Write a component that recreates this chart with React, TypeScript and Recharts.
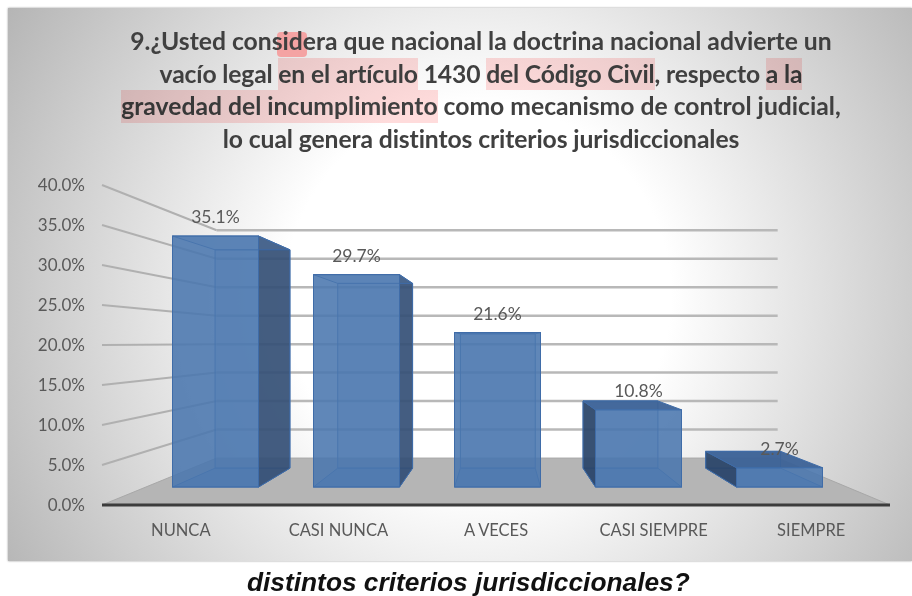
import React from 'react';
import { BarChart, Bar, XAxis, YAxis, CartesianGrid, LabelList } from 'recharts';

const categories = ['NUNCA', 'CASI NUNCA', 'A VECES', 'CASI SIEMPRE', 'SIEMPRE'];
const percentages = [35.1, 29.7, 21.6, 10.8, 2.7];
const yTicks = [0, 5, 10, 15, 20, 25, 30, 35, 40];

const chartData = categories.map((name, i) => ({ name, value: percentages[i] }));

// the 3D look: everything shrinks towards one vanishing point
const VP_X = 500;
const VP_Y = 342;
const WALL_DEPTH = 0.712;
const BAR_DEPTH = 0.87;

const project = (x: number, y: number, depth: number) => [
  VP_X + depth * (x - VP_X),
  VP_Y + depth * (y - VP_Y),
];

const pts = (list: number[][]) => list.map((p) => p.join(',')).join(' ');

const FONT = 'Lato, sans-serif';
const EDGE = '#3f6ca8';

// Left wall line, back wall line, and the floor under the zero line
const renderGridLine = (props: any) => {
  const { x1, x2, y1, key } = props;
  const [bx1, by] = project(x1, y1, WALL_DEPTH);
  const [bx2] = project(x2, y1, WALL_DEPTH);
  const isFloor = Math.abs(y1 - 505) < 1;
  if (isFloor) {
    return (
      <g key={key}>
        <polygon
          points={pts([[x1, y1], [bx1, by], [bx2, by], [x2, y1]])}
          fill="#b5b5b5"
          stroke="#a8a8a8"
          strokeWidth={1}
        />
      </g>
    );
  }
  return (
    <g key={key}>
      <line x1={x1} y1={y1} x2={bx1} y2={by} stroke="#b0b0b0" strokeWidth={2} />
      <line x1={bx1} y1={by} x2={bx2} y2={by} stroke="#b8b8b8" strokeWidth={2.5} />
    </g>
  );
};

const Bar3D = (props: any) => {
  const { x, y, width, height } = props;
  const right = x + width;
  const bottom = y + height;
  const [bl, bt] = project(x, y, BAR_DEPTH);
  const [br, bb] = project(right, bottom, BAR_DEPTH);

  const backFace = [[bl, bt], [br, bt], [br, bb], [bl, bb]];
  const floorFace = [[x, bottom], [right, bottom], [br, bb], [bl, bb]];
  const topFace = [[x, y], [right, y], [br, bt], [bl, bt]];
  const leftFace = [[x, y], [bl, bt], [bl, bb], [x, bottom]];
  const rightFace = [[right, y], [br, bt], [br, bb], [right, bottom]];
  const topVisible = y > VP_Y;

  return (
    <g>
      <polygon points={pts(backFace)} fill="#4f81bd" fillOpacity={0.25} stroke={EDGE} strokeWidth={1} />
      <polygon points={pts(floorFace)} fill="#4f81bd" fillOpacity={0.45} stroke={EDGE} strokeWidth={1} />
      {bl < x && <polygon points={pts(leftFace)} fill="#2a4468" fillOpacity={0.92} stroke={EDGE} strokeWidth={1} />}
      {br > right && <polygon points={pts(rightFace)} fill="#344f74" fillOpacity={0.9} stroke={EDGE} strokeWidth={1} />}
      <polygon
        points={pts(topFace)}
        fill={topVisible ? '#3c6297' : '#4f81bd'}
        fillOpacity={topVisible ? 0.95 : 0.2}
        stroke={EDGE}
        strokeWidth={1}
      />
      <rect x={x} y={y} width={width} height={height} fill="#4a76ae" fillOpacity={0.88} stroke={EDGE} strokeWidth={1} />
    </g>
  );
};

const highlight: React.CSSProperties = {
  display: 'inline-block',
  backgroundColor: '#ffdcdc',
  mixBlendMode: 'multiply',
};

const titleLine: React.CSSProperties = {
  height: 32.5,
  lineHeight: '32.5px',
  whiteSpace: 'pre',
};

export default function App() {
  return (
    <div style={{ position: 'absolute', left: 0, top: 0, width: 912, height: 596, overflow: 'hidden', background: '#fff' }}>
      <div
        style={{
          position: 'absolute',
          left: 8,
          top: 8,
          width: 904,
          height: 553,
          background: 'radial-gradient(circle farthest-corner at 52% 52%, #ffffff 35%, #b5b5b5 100%)',
          boxShadow: '0 0 2px #999',
        }}
      />
      <div
        style={{
          position: 'absolute',
          left: 277,
          top: 32,
          width: 30,
          height: 25,
          borderRadius: 4,
          background: '#f4a3a3',
        }}
      />
      <BarChart
        width={912}
        height={596}
        data={chartData}
        margin={{ top: 185, right: 22, bottom: 61, left: 22 }}
        style={{ position: 'absolute', left: 0, top: 0 }}
      >
        <CartesianGrid xAxisId="labels" yAxisId="labels" vertical={false} horizontal={renderGridLine} />
        <XAxis
          xAxisId="labels"
          dataKey="name"
          height={30}
          tickLine={false}
          tickMargin={13}
          axisLine={{ stroke: '#3c3c3c', strokeWidth: 3 }}
          interval={0}
          tick={{ fill: '#595959', fontSize: 16.5, fontFamily: FONT }}
        />
        <XAxis xAxisId="bars" dataKey="name" hide height={0} padding={{ left: 42.5, right: 40.5 }} />
        <YAxis
          yAxisId="labels"
          type="number"
          width={80}
          domain={[0, 40]}
          ticks={yTicks}
          interval={0}
          axisLine={false}
          tickLine={false}
          tickMargin={11}
          tickFormatter={(v: number) => `${v.toFixed(1)}%`}
          tick={{ fill: '#595959', fontSize: 17, fontFamily: FONT }}
        />
        {/* hidden axis for the bars' own plane, which sits further back than the tick labels */}
        <YAxis yAxisId="bars" hide width={0} domain={[-2.517, 42.238]} allowDataOverflow />
        {/* draws nothing: an axis with no series gets no ticks */}
        <Bar
          xAxisId="labels"
          yAxisId="labels"
          dataKey="value"
          shape={() => null}
          isAnimationActive={false}
        />
        <Bar
          xAxisId="bars"
          yAxisId="bars"
          dataKey="value"
          barSize={86}
          shape={Bar3D}
          isAnimationActive={false}
        >
          <LabelList
            dataKey="value"
            position="top"
            offset={13}
            formatter={(v: any) => `${Number(v).toFixed(1)}%`}
            fill="#595959"
            fontSize={17.5}
            fontFamily={FONT}
          />
        </Bar>
      </BarChart>
      <div
        style={{
          position: 'absolute',
          left: 50,
          top: 25,
          width: 862,
          textAlign: 'center',
          fontFamily: FONT,
          fontWeight: 700,
          fontSize: 24.7,
          color: '#404040',
        }}
      >
        <div style={titleLine}>9.¿Usted considera que nacional la doctrina nacional advierte un</div>
        <div style={{ ...titleLine, letterSpacing: -0.16 }}>
          vacío legal <span style={highlight}>en el artículo</span> 1430 <span style={highlight}>del Código Civil</span>, respecto <span style={highlight}>a la</span>
        </div>
        <div style={titleLine}>
          <span style={highlight}>gravedad del incumplimiento</span> como mecanismo de control judicial,
        </div>
        <div style={{ ...titleLine, letterSpacing: -0.1 }}>lo cual genera distintos criterios jurisdiccionales</div>
      </div>
      <div
        style={{
          position: 'absolute',
          left: 247,
          top: 570,
          lineHeight: '25px',
          whiteSpace: 'nowrap',
          fontFamily: '"Liberation Sans", sans-serif',
          fontWeight: 700,
          fontStyle: 'italic',
          fontSize: 26.3,
          color: '#111',
        }}
      >
        distintos criterios jurisdiccionales?
      </div>
    </div>
  );
}
